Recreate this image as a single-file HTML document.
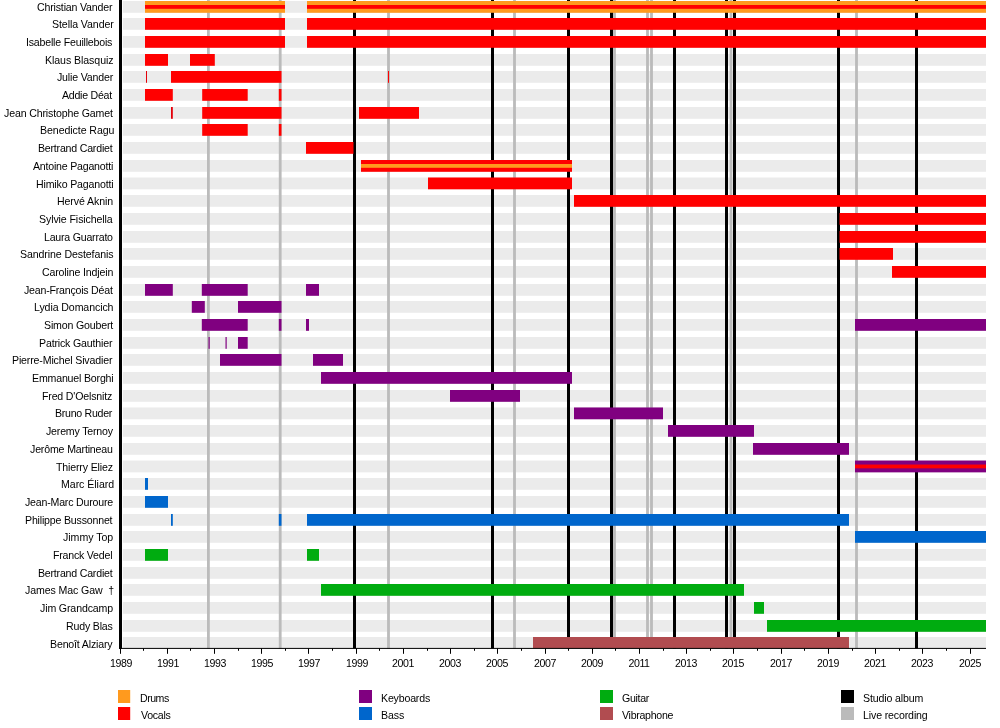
<!DOCTYPE html>
<html><head><meta charset="utf-8"><title>Timeline</title>
<style>
html,body{margin:0;padding:0;background:#fff;}
body{width:1000px;height:728px;position:relative;overflow:hidden;font-family:"Liberation Sans",sans-serif;color:#000;}
div{position:absolute;}
.n,.y,.lt{will-change:transform;filter:grayscale(1);}
.n{right:887px;white-space:nowrap;font-size:10.6px;line-height:12px;height:12px;text-align:right;}
.y{letter-spacing:-0.42px;font-size:10.6px;line-height:12px;width:40px;text-align:center;top:657px;}
.lt{font-size:10.6px;line-height:12px;white-space:nowrap;}
</style></head><body>

<svg width="1000" height="728" viewBox="0 0 1000 728" style="position:absolute;left:0;top:0" shape-rendering="geometricPrecision">
<rect x="122.8" y="1" width="863.2" height="11.8" fill="#ebebeb"/>
<rect x="122.8" y="18" width="863.2" height="11.8" fill="#ebebeb"/>
<rect x="122.8" y="36" width="863.2" height="11.8" fill="#ebebeb"/>
<rect x="122.8" y="54" width="863.2" height="11.8" fill="#ebebeb"/>
<rect x="122.8" y="71" width="863.2" height="11.8" fill="#ebebeb"/>
<rect x="122.8" y="89" width="863.2" height="11.8" fill="#ebebeb"/>
<rect x="122.8" y="107" width="863.2" height="11.8" fill="#ebebeb"/>
<rect x="122.8" y="124" width="863.2" height="11.8" fill="#ebebeb"/>
<rect x="122.8" y="142" width="863.2" height="11.8" fill="#ebebeb"/>
<rect x="122.8" y="160" width="863.2" height="11.8" fill="#ebebeb"/>
<rect x="122.8" y="177.5" width="863.2" height="11.8" fill="#ebebeb"/>
<rect x="122.8" y="195" width="863.2" height="11.8" fill="#ebebeb"/>
<rect x="122.8" y="213" width="863.2" height="11.8" fill="#ebebeb"/>
<rect x="122.8" y="231" width="863.2" height="11.8" fill="#ebebeb"/>
<rect x="122.8" y="248" width="863.2" height="11.8" fill="#ebebeb"/>
<rect x="122.8" y="266" width="863.2" height="11.8" fill="#ebebeb"/>
<rect x="122.8" y="284" width="863.2" height="11.8" fill="#ebebeb"/>
<rect x="122.8" y="301" width="863.2" height="11.8" fill="#ebebeb"/>
<rect x="122.8" y="319" width="863.2" height="11.8" fill="#ebebeb"/>
<rect x="122.8" y="337" width="863.2" height="11.8" fill="#ebebeb"/>
<rect x="122.8" y="354" width="863.2" height="11.8" fill="#ebebeb"/>
<rect x="122.8" y="372" width="863.2" height="11.8" fill="#ebebeb"/>
<rect x="122.8" y="390" width="863.2" height="11.8" fill="#ebebeb"/>
<rect x="122.8" y="407.47" width="863.2" height="11.8" fill="#ebebeb"/>
<rect x="122.8" y="425" width="863.2" height="11.8" fill="#ebebeb"/>
<rect x="122.8" y="443" width="863.2" height="11.8" fill="#ebebeb"/>
<rect x="122.8" y="460.54" width="863.2" height="11.8" fill="#ebebeb"/>
<rect x="122.8" y="478" width="863.2" height="11.8" fill="#ebebeb"/>
<rect x="122.8" y="496" width="863.2" height="11.8" fill="#ebebeb"/>
<rect x="122.8" y="514" width="863.2" height="11.8" fill="#ebebeb"/>
<rect x="122.8" y="531" width="863.2" height="11.8" fill="#ebebeb"/>
<rect x="122.8" y="549" width="863.2" height="11.8" fill="#ebebeb"/>
<rect x="122.8" y="567" width="863.2" height="11.8" fill="#ebebeb"/>
<rect x="122.8" y="584" width="863.2" height="11.8" fill="#ebebeb"/>
<rect x="122.8" y="602" width="863.2" height="11.8" fill="#ebebeb"/>
<rect x="122.8" y="620" width="863.2" height="11.8" fill="#ebebeb"/>
<rect x="122.8" y="637" width="863.2" height="11.4" fill="#ebebeb"/>
<rect x="207" y="0" width="2.8" height="648.4" fill="#bbbbbb"/>
<rect x="278.8" y="0" width="2.8" height="648.4" fill="#bbbbbb"/>
<rect x="387.1" y="0" width="2.8" height="648.4" fill="#bbbbbb"/>
<rect x="513.1" y="0" width="2.8" height="648.4" fill="#bbbbbb"/>
<rect x="613.1" y="0" width="2.8" height="648.4" fill="#bbbbbb"/>
<rect x="646.1" y="0" width="2.8" height="648.4" fill="#bbbbbb"/>
<rect x="650.1" y="0" width="2.8" height="648.4" fill="#bbbbbb"/>
<rect x="729.6" y="0" width="2.8" height="648.4" fill="#bbbbbb"/>
<rect x="855.1" y="0" width="2.8" height="648.4" fill="#bbbbbb"/>
<rect x="353" y="0" width="3" height="648.4" fill="#000"/>
<rect x="491" y="0" width="3" height="648.4" fill="#000"/>
<rect x="567" y="0" width="3" height="648.4" fill="#000"/>
<rect x="610" y="0" width="3" height="648.4" fill="#000"/>
<rect x="673" y="0" width="3" height="648.4" fill="#000"/>
<rect x="725" y="0" width="3" height="648.4" fill="#000"/>
<rect x="733" y="0" width="3" height="648.4" fill="#000"/>
<rect x="837" y="0" width="3" height="648.4" fill="#000"/>
<rect x="915" y="0" width="3" height="648.4" fill="#000"/>
<rect x="145" y="1" width="140" height="11.8" fill="#ff9a1e"/>
<rect x="145" y="5" width="140" height="3.8" fill="#ff0000"/>
<rect x="307" y="1" width="679" height="11.8" fill="#ff9a1e"/>
<rect x="307" y="5" width="679" height="3.8" fill="#ff0000"/>
<rect x="145" y="18" width="140" height="11.8" fill="#ff0000"/>
<rect x="307" y="18" width="679" height="11.8" fill="#ff0000"/>
<rect x="145" y="36" width="140" height="11.8" fill="#ff0000"/>
<rect x="307" y="36" width="679" height="11.8" fill="#ff0000"/>
<rect x="145" y="54" width="23" height="11.8" fill="#ff0000"/>
<rect x="190" y="54" width="24.8" height="11.8" fill="#ff0000"/>
<rect x="146" y="71" width="1" height="11.8" fill="#e4000a"/>
<rect x="171" y="71" width="110.5" height="11.8" fill="#ff0000"/>
<rect x="388" y="71" width="1" height="11.8" fill="#ff0000"/>
<rect x="145" y="89" width="27.8" height="11.8" fill="#ff0000"/>
<rect x="202.2" y="89" width="45.5" height="11.8" fill="#ff0000"/>
<rect x="278.8" y="89" width="2.7" height="11.8" fill="#ff0000"/>
<rect x="171" y="107" width="1.8" height="11.8" fill="#e4000a"/>
<rect x="202.2" y="107" width="79.3" height="11.8" fill="#ff0000"/>
<rect x="359" y="107" width="60" height="11.8" fill="#ff0000"/>
<rect x="202.2" y="124" width="45.5" height="11.8" fill="#ff0000"/>
<rect x="278.8" y="124" width="2.7" height="11.8" fill="#ff0000"/>
<rect x="306" y="142" width="47.5" height="11.8" fill="#ff0000"/>
<rect x="361" y="160" width="211" height="11.8" fill="#ff0000"/>
<rect x="361" y="164" width="211" height="3.8" fill="#ff9a1e"/>
<rect x="428" y="177.5" width="144" height="11.8" fill="#ff0000"/>
<rect x="574" y="195" width="412" height="11.8" fill="#ff0000"/>
<rect x="839.5" y="213" width="146.5" height="11.8" fill="#ff0000"/>
<rect x="839.5" y="231" width="146.5" height="11.8" fill="#ff0000"/>
<rect x="839.5" y="248" width="53.5" height="11.8" fill="#ff0000"/>
<rect x="892" y="266" width="94" height="11.8" fill="#ff0000"/>
<rect x="145" y="284" width="27.8" height="11.8" fill="#800080"/>
<rect x="201.8" y="284" width="45.9" height="11.8" fill="#800080"/>
<rect x="306" y="284" width="13" height="11.8" fill="#800080"/>
<rect x="191.8" y="301" width="13" height="11.8" fill="#800080"/>
<rect x="238" y="301" width="43.5" height="11.8" fill="#800080"/>
<rect x="201.8" y="319" width="45.9" height="11.8" fill="#800080"/>
<rect x="278.8" y="319" width="2.7" height="11.8" fill="#800080"/>
<rect x="306" y="319" width="3" height="11.8" fill="#800080"/>
<rect x="855" y="319" width="131" height="11.8" fill="#800080"/>
<rect x="208.5" y="337" width="1.2" height="11.8" fill="#800080"/>
<rect x="225.5" y="337" width="1.2" height="11.8" fill="#800080"/>
<rect x="238" y="337" width="9.7" height="11.8" fill="#800080"/>
<rect x="220" y="354" width="61.5" height="11.8" fill="#800080"/>
<rect x="313" y="354" width="30" height="11.8" fill="#800080"/>
<rect x="321" y="372" width="251" height="11.8" fill="#800080"/>
<rect x="450" y="390" width="70" height="11.8" fill="#800080"/>
<rect x="574" y="407.47" width="89" height="11.8" fill="#800080"/>
<rect x="668" y="425" width="86" height="11.8" fill="#800080"/>
<rect x="753" y="443" width="96" height="11.8" fill="#800080"/>
<rect x="855" y="460.54" width="131" height="11.8" fill="#800080"/>
<rect x="855" y="464.54" width="131" height="3.8" fill="#ff0000"/>
<rect x="145" y="478" width="3" height="11.8" fill="#0066cc"/>
<rect x="145" y="496" width="23" height="11.8" fill="#0066cc"/>
<rect x="171" y="514" width="1.8" height="11.8" fill="#0066cc"/>
<rect x="278.8" y="514" width="2.7" height="11.8" fill="#0066cc"/>
<rect x="307" y="514" width="542" height="11.8" fill="#0066cc"/>
<rect x="855" y="531" width="131" height="11.8" fill="#0066cc"/>
<rect x="145" y="549" width="23" height="11.8" fill="#00ac10"/>
<rect x="307" y="549" width="12" height="11.8" fill="#00ac10"/>
<rect x="321" y="584" width="423" height="11.8" fill="#00ac10"/>
<rect x="754" y="602" width="10" height="11.8" fill="#00ac10"/>
<rect x="767" y="620" width="219" height="11.8" fill="#00ac10"/>
<rect x="533" y="637" width="316" height="11.4" fill="#b14c50"/>
<rect x="119" y="0" width="3" height="648.9" fill="#000"/>
<rect x="119" y="647.9" width="867" height="1" fill="#000"/>
<rect x="120" y="648.4" width="1" height="5.4" fill="#000"/>
<rect x="143" y="648.4" width="1" height="2.4" fill="#000"/>
<rect x="167" y="648.4" width="1" height="5.4" fill="#000"/>
<rect x="190" y="648.4" width="1" height="2.4" fill="#000"/>
<rect x="214" y="648.4" width="1" height="5.4" fill="#000"/>
<rect x="238" y="648.4" width="1" height="2.4" fill="#000"/>
<rect x="261" y="648.4" width="1" height="5.4" fill="#000"/>
<rect x="285" y="648.4" width="1" height="2.4" fill="#000"/>
<rect x="308" y="648.4" width="1" height="5.4" fill="#000"/>
<rect x="332" y="648.4" width="1" height="2.4" fill="#000"/>
<rect x="356" y="648.4" width="1" height="5.4" fill="#000"/>
<rect x="379" y="648.4" width="1" height="2.4" fill="#000"/>
<rect x="403" y="648.4" width="1" height="5.4" fill="#000"/>
<rect x="427" y="648.4" width="1" height="2.4" fill="#000"/>
<rect x="450" y="648.4" width="1" height="5.4" fill="#000"/>
<rect x="474" y="648.4" width="1" height="2.4" fill="#000"/>
<rect x="497" y="648.4" width="1" height="5.4" fill="#000"/>
<rect x="521" y="648.4" width="1" height="2.4" fill="#000"/>
<rect x="545" y="648.4" width="1" height="5.4" fill="#000"/>
<rect x="568" y="648.4" width="1" height="2.4" fill="#000"/>
<rect x="592" y="648.4" width="1" height="5.4" fill="#000"/>
<rect x="615" y="648.4" width="1" height="2.4" fill="#000"/>
<rect x="639" y="648.4" width="1" height="5.4" fill="#000"/>
<rect x="663" y="648.4" width="1" height="2.4" fill="#000"/>
<rect x="686" y="648.4" width="1" height="5.4" fill="#000"/>
<rect x="710" y="648.4" width="1" height="2.4" fill="#000"/>
<rect x="733" y="648.4" width="1" height="5.4" fill="#000"/>
<rect x="757" y="648.4" width="1" height="2.4" fill="#000"/>
<rect x="781" y="648.4" width="1" height="5.4" fill="#000"/>
<rect x="804" y="648.4" width="1" height="2.4" fill="#000"/>
<rect x="828" y="648.4" width="1" height="5.4" fill="#000"/>
<rect x="852" y="648.4" width="1" height="2.4" fill="#000"/>
<rect x="875" y="648.4" width="1" height="5.4" fill="#000"/>
<rect x="899" y="648.4" width="1" height="2.4" fill="#000"/>
<rect x="922" y="648.4" width="1" height="5.4" fill="#000"/>
<rect x="946" y="648.4" width="1" height="2.4" fill="#000"/>
<rect x="970" y="648.4" width="1" height="5.4" fill="#000"/>
<rect x="118" y="690" width="12.2" height="13" fill="#ff9a1e"/>
<rect x="118" y="707" width="12.2" height="13" fill="#ff0000"/>
<rect x="359" y="690" width="13" height="13" fill="#800080"/>
<rect x="359" y="707" width="13" height="13" fill="#0066cc"/>
<rect x="600" y="690" width="13" height="13" fill="#00ac10"/>
<rect x="600" y="707" width="13" height="13" fill="#b14c50"/>
<rect x="841" y="690" width="13" height="13" fill="#000"/>
<rect x="841" y="707" width="13" height="13" fill="#bbbbbb"/>
</svg>
<div class="y" style="left:101.2px">1989</div>
<div class="y" style="left:148.2px">1991</div>
<div class="y" style="left:195.2px">1993</div>
<div class="y" style="left:242.2px">1995</div>
<div class="y" style="left:289.2px">1997</div>
<div class="y" style="left:337.2px">1999</div>
<div class="y" style="left:383.2px">2001</div>
<div class="y" style="left:430.2px">2003</div>
<div class="y" style="left:477.2px">2005</div>
<div class="y" style="left:525.2px">2007</div>
<div class="y" style="left:572.2px">2009</div>
<div class="y" style="left:619.2px">2011</div>
<div class="y" style="left:666.2px">2013</div>
<div class="y" style="left:713.2px">2015</div>
<div class="y" style="left:761.2px">2017</div>
<div class="y" style="left:808.2px">2019</div>
<div class="y" style="left:855.2px">2021</div>
<div class="y" style="left:902.2px">2023</div>
<div class="y" style="left:950.2px">2025</div>
<div class="n" style="top:1px;right:887.52px;letter-spacing:-0.173px">Christian Vander</div>
<div class="n" style="top:18px;right:886.2px;letter-spacing:-0.084px">Stella Vander</div>
<div class="n" style="top:36px;right:887.45px;letter-spacing:-0.194px">Isabelle Feuillebois</div>
<div class="n" style="top:54px;right:886.43px;letter-spacing:-0.074px">Klaus Blasquiz</div>
<div class="n" style="top:71px;right:887.1px;letter-spacing:-0.172px">Julie Vander</div>
<div class="n" style="top:89px;right:887.66px;letter-spacing:-0.247px">Addie Déat</div>
<div class="n" style="top:107px;right:887.64px;letter-spacing:-0.145px">Jean Christophe Gamet</div>
<div class="n" style="top:124px;right:885.38px;letter-spacing:-0.073px">Benedicte Ragu</div>
<div class="n" style="top:142px;right:887.47px;letter-spacing:-0.204px">Bertrand Cardiet</div>
<div class="n" style="top:160px;right:886.49px;letter-spacing:-0.213px">Antoine Paganotti</div>
<div class="n" style="top:178px;right:886.66px;letter-spacing:-0.162px">Himiko Paganotti</div>
<div class="n" style="top:195px;right:887.24px;letter-spacing:-0.087px">Hervé Aknin</div>
<div class="n" style="top:213px;right:886.98px;letter-spacing:-0.1px">Sylvie Fisichella</div>
<div class="n" style="top:231px;right:886.77px;letter-spacing:-0.218px">Laura Guarrato</div>
<div class="n" style="top:248px;right:886.08px;letter-spacing:-0.104px">Sandrine Destefanis</div>
<div class="n" style="top:266px;right:886.39px;letter-spacing:-0.15px">Caroline Indjein</div>
<div class="n" style="top:284px;right:887.14px;letter-spacing:-0.211px">Jean-François Déat</div>
<div class="n" style="top:301px;right:886.74px;letter-spacing:-0.098px">Lydia Domancich</div>
<div class="n" style="top:319px;right:886.71px;letter-spacing:-0.17px">Simon Goubert</div>
<div class="n" style="top:337px;right:887.53px;letter-spacing:-0.162px">Patrick Gauthier</div>
<div class="n" style="top:354px;right:887.89px;letter-spacing:-0.151px">Pierre-Michel Sivadier</div>
<div class="n" style="top:372px;right:886.46px;letter-spacing:-0.181px">Emmanuel Borghi</div>
<div class="n" style="top:390px;right:887.98px;letter-spacing:-0.174px">Fred D'Oelsnitz</div>
<div class="n" style="top:407px;right:887.74px;letter-spacing:-0.275px">Bruno Ruder</div>
<div class="n" style="top:425px;right:886.87px;letter-spacing:-0.184px">Jeremy Ternoy</div>
<div class="n" style="top:443px;right:886.81px;letter-spacing:-0.162px">Jerôme Martineau</div>
<div class="n" style="top:461px;right:886.68px;letter-spacing:-0.153px">Thierry Eliez</div>
<div class="n" style="top:478px;right:886.08px;letter-spacing:-0.04px">Marc Éliard</div>
<div class="n" style="top:496px;right:887.44px;letter-spacing:-0.197px">Jean-Marc Duroure</div>
<div class="n" style="top:514px;right:887.73px;letter-spacing:-0.186px">Philippe Bussonnet</div>
<div class="n" style="top:531px;right:887.01px;letter-spacing:-0.022px">Jimmy Top</div>
<div class="n" style="top:549px;right:887.55px;letter-spacing:-0.21px">Franck Vedel</div>
<div class="n" style="top:567px;right:887.47px;letter-spacing:-0.204px">Bertrand Cardiet</div>
<div class="n" style="top:584px;right:885.83px;letter-spacing:-0.109px">James Mac Gaw&nbsp; †</div>
<div class="n" style="top:602px;right:887.13px;letter-spacing:-0.136px">Jim Grandcamp</div>
<div class="n" style="top:620px;right:887.32px;letter-spacing:-0.178px">Rudy Blas</div>
<div class="n" style="top:638px;right:887.34px;letter-spacing:-0.163px">Benoît Alziary</div>
<div class="lt" style="left:139.72px;top:691.5px;letter-spacing:-0.500px">Drums</div>
<div class="lt" style="left:140.65px;top:708.5px;letter-spacing:-0.283px">Vocals</div>
<div class="lt" style="left:380.72px;top:691.5px;letter-spacing:-0.180px">Keyboards</div>
<div class="lt" style="left:380.72px;top:708.5px;letter-spacing:-0.123px">Bass</div>
<div class="lt" style="left:621.96px;top:691.5px;letter-spacing:-0.301px">Guitar</div>
<div class="lt" style="left:622.05px;top:708.5px;letter-spacing:-0.289px">Vibraphone</div>
<div class="lt" style="left:862.93px;top:691.5px;letter-spacing:-0.142px">Studio album</div>
<div class="lt" style="left:863.46px;top:708.5px;letter-spacing:-0.139px">Live recording</div>
</body></html>
